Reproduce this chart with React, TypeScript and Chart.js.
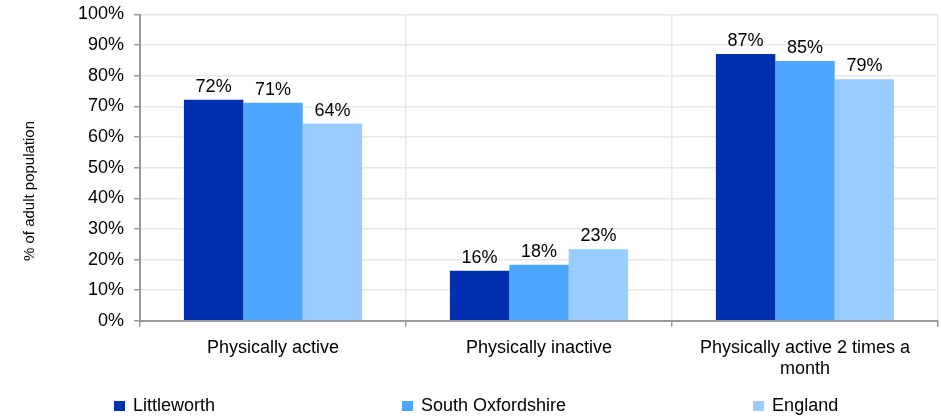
import React, { useEffect, useRef } from "react";
import { Chart, registerables } from "chart.js";

Chart.register(...registerables);

const categories: (string | string[])[] = [
  "Physically active",
  "Physically inactive",
  ["Physically active 2 times a", "month"],
];
const seriesNames = ["Littleworth", "South Oxfordshire", "England"];
const littleworth = [72.2, 16.3, 87.1];
const southOxfordshire = [71.2, 18.3, 84.8];
const england = [64.4, 23.4, 78.9];
const seriesColors = ["#0030b0", "#4da6ff", "#99ccff"];
const yTitle = "% of adult population";

const FONT = "'Liberation Sans', Arial, sans-serif";

const dataLabelPlugin = {
  id: "dataLabels",
  afterDatasetsDraw(chart: any) {
    const ctx = chart.ctx;
    ctx.save();
    ctx.font = `18px ${FONT}`;
    ctx.fillStyle = "#000";
    ctx.textAlign = "center";
    ctx.textBaseline = "alphabetic";
    chart.data.datasets.forEach((ds: any, i: number) => {
      const meta = chart.getDatasetMeta(i);
      meta.data.forEach((bar: any, j: number) => {
        ctx.fillText(Math.round(ds.data[j]) + "%", bar.x, bar.y - 8);
      });
    });
    ctx.restore();
  },
};

const extrasPlugin = {
  id: "extras",
  afterDraw(chart: any) {
    const ctx = chart.ctx;
    ctx.save();
    // y-axis title
    ctx.font = `15px ${FONT}`;
    ctx.fillStyle = "#000";
    ctx.textAlign = "center";
    ctx.textBaseline = "middle";
    ctx.translate(30, 191);
    ctx.rotate(-Math.PI / 2);
    ctx.fillText(yTitle, 0, 0);
    ctx.restore();

    // legend
    ctx.save();
    ctx.font = `18px ${FONT}`;
    ctx.textAlign = "left";
    ctx.textBaseline = "middle";
    let x = 114;
    const yc = 406;
    chart.data.datasets.forEach((ds: any) => {
      ctx.fillStyle = ds.backgroundColor;
      ctx.fillRect(x, yc - 5, 11, 10);
      ctx.fillStyle = "#000";
      ctx.fillText(ds.label, x + 19, yc);
      x += 19 + ctx.measureText(ds.label).width + 187;
    });
    ctx.restore();
  },
};

export default function App() {
  const ref = useRef<HTMLCanvasElement | null>(null);
  useEffect(() => {
    if (!ref.current) return;
    const chart = new Chart(ref.current, {
      type: "bar",
      data: {
        labels: categories,
        datasets: [littleworth, southOxfordshire, england].map((d, i) => ({
          label: seriesNames[i],
          data: d,
          backgroundColor: seriesColors[i],
          categoryPercentage: 0.67,
          barPercentage: 1.0,
        })),
      },
      options: {
        animation: false,
        responsive: false,
        maintainAspectRatio: false,
        layout: { padding: { left: 68, right: 3, top: 14.5, bottom: 27 } },
        plugins: {
          legend: { display: false },
          tooltip: { enabled: false },
        },
        scales: {
          x: {
            grid: {
              color: "#e8e8e8",
              lineWidth: 1.5,
              tickColor: "#999",
              tickLength: 6,
              offset: true,
            },
            border: { color: "#999", width: 2 },
            ticks: { color: "#000", font: { family: FONT, size: 18 }, padding: 10, maxRotation: 0 },
          },
          y: {
            min: 0,
            max: 100,
            afterFit: (scale: any) => {
              scale.paddingTop = 0;
            },
            grid: { color: "#e8e8e8", lineWidth: 1.5, tickColor: "#999", tickLength: 6 },
            border: { color: "#999", width: 2 },
            ticks: {
              stepSize: 10,
              color: "#000",
              font: { family: FONT, size: 18 },
              padding: 10,
              callback: (v: any) => v + "%",
            },
          },
        },
      },
      plugins: [dataLabelPlugin, extrasPlugin],
    });
    return () => chart.destroy();
  }, []);
  return (
    <div style={{ position: "fixed", left: 0, top: 0, width: 941, height: 417, background: "#fff" }}>
      <canvas ref={ref} width={941} height={417} style={{ width: 941, height: 417 }} />
    </div>
  );
}
